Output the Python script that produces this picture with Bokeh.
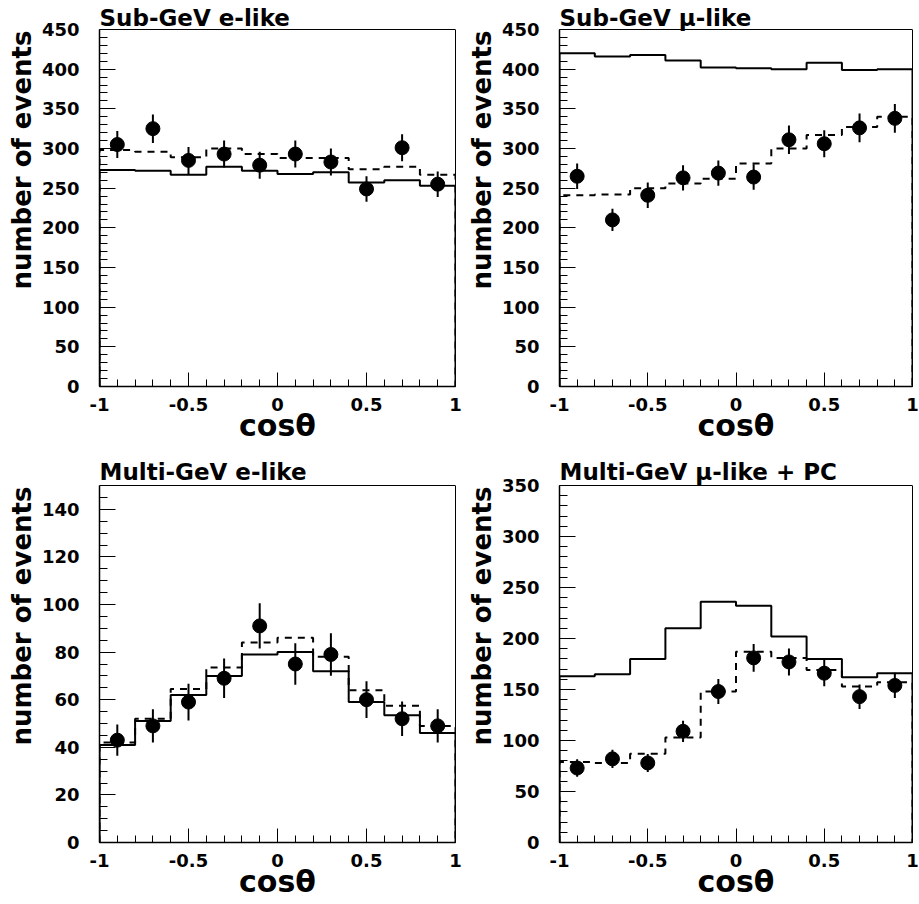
from bokeh.plotting import figure
from bokeh.models import Range1d, FixedTicker, LinearAxis, Title
from bokeh.layouts import gridplot
from bokeh.core.properties import value
from bokeh.embed import file_html
from bokeh.resources import INLINE

# ---------------- data ----------------
bin_edges = [-1.0, -0.8, -0.6, -0.4, -0.2, 0.0, 0.2, 0.4, 0.6, 0.8, 1.0]
bin_centers = [-0.9, -0.7, -0.5, -0.3, -0.1, 0.1, 0.3, 0.5, 0.7, 0.9]

x_tick_values = [-1, -0.5, 0, 0.5, 1]
x_tick_labels = ["-1", "-0.5", "0", "0.5", "1"]

titles = ["Sub-GeV e-like", "Sub-GeV \u03bc-like", "Multi-GeV e-like", "Multi-GeV \u03bc-like + PC"]
y_max = [450, 450, 150, 350]
y_major_step = [50, 50, 20, 50]
y_minor_step = [10, 10, 5, 10]

# Sub-GeV e-like
sub_e_data = [305, 325, 285, 293, 279, 293, 283, 249, 301, 255]
sub_e_err = [17, 18, 17, 17, 17, 17, 17, 16, 17, 16]
sub_e_noosc = [273, 272, 267, 277, 272, 268, 270, 257, 260, 253]
sub_e_osc = [298, 296, 289, 300, 293, 288, 288, 274, 277, 267]

# Sub-GeV mu-like
sub_mu_data = [265, 210, 241, 263, 269, 264, 311, 306, 326, 338]
sub_mu_err = [16, 14, 16, 16, 16, 16, 18, 17, 18, 18]
sub_mu_noosc = [420, 416, 418, 411, 402, 401, 400, 408, 399, 400]
sub_mu_osc = [241, 242, 250, 256, 262, 281, 300, 317, 327, 340]

# Multi-GeV e-like
multi_e_data = [43, 49, 59, 69, 91, 75, 79, 60, 52, 49]
multi_e_err = [6.6, 7.0, 7.7, 8.3, 9.5, 8.7, 8.9, 7.7, 7.2, 7.0]
multi_e_noosc = [41, 51, 62, 70, 79, 80, 72, 59, 53.5, 46]
multi_e_osc = [42, 52, 64.5, 73.5, 84, 86, 78, 64, 57.5, 49]

# Multi-GeV mu-like + PC
multi_mu_data = [73, 82, 78, 109, 148, 181, 177, 166, 143, 154]
multi_mu_err = [8.5, 9.0, 8.8, 10.4, 12.2, 13.5, 13.3, 12.9, 12.0, 12.4]
multi_mu_noosc = [163, 165, 180, 210, 236, 232, 202, 180, 162, 166]
multi_mu_osc = [79, 78, 87, 103, 148, 187, 181, 169, 153, 157]

series = [
    (sub_e_data, sub_e_err, sub_e_noosc, sub_e_osc),
    (sub_mu_data, sub_mu_err, sub_mu_noosc, sub_mu_osc),
    (multi_e_data, multi_e_err, multi_e_noosc, multi_e_osc),
    (multi_mu_data, multi_mu_err, multi_mu_noosc, multi_mu_osc),
]

FONT = "DejaVu Sans"


def step_xy(edges, vals):
    xs, ys = [edges[0]], [0]
    for i, v in enumerate(vals):
        xs += [edges[i], edges[i + 1]]
        ys += [v, v]
    xs.append(edges[-1])
    ys.append(0)
    return xs, ys


def make_panel(idx, left, right, extra_top, bottom, fw, fh, title_shift):
    data, err, noosc, osc = series[idx]
    ymax = y_max[idx]
    ytop = ymax * (fh + extra_top) / fh  # room above the frame box for the title
    p = figure(width=left + fw + right, height=extra_top + fh + bottom,
               x_range=Range1d(-1, 1), y_range=Range1d(0, ytop),
               output_backend="svg", toolbar_location=None, title=None,
               min_border_left=left, min_border_right=right,
               min_border_top=0, min_border_bottom=bottom)
    p.background_fill_color = "white"
    p.border_fill_color = "white"
    p.outline_line_color = None
    p.xgrid.visible = False
    p.ygrid.visible = False

    minor_x = [round(-1 + 0.1 * k, 1) for k in range(21)]
    p.xaxis.ticker = FixedTicker(ticks=x_tick_values, minor_ticks=minor_x)
    p.xaxis.major_label_overrides = dict(zip(x_tick_values, x_tick_labels))
    ymaj = list(range(0, ymax + 1, y_major_step[idx]))
    ymin = list(range(0, ymax + 1, y_minor_step[idx]))
    p.yaxis.ticker = FixedTicker(ticks=ymaj, minor_ticks=ymin)
    p.yaxis.bounds = (0, ymax)

    for ax in (p.xaxis[0], p.yaxis[0]):
        ax.axis_line_color = "black"
        ax.axis_line_width = 1.5
        ax.major_tick_line_color = "black"
        ax.minor_tick_line_color = "black"
        ax.major_tick_line_width = 1
        ax.minor_tick_line_width = 1
        ax.major_tick_out = 0
        ax.minor_tick_out = 0
        ax.major_label_text_font = FONT
        ax.major_label_text_font_style = "bold"
        ax.major_label_text_font_size = "18px"
        ax.major_label_text_color = "black"
    p.yaxis.major_tick_in = 16
    p.yaxis.minor_tick_in = 8
    p.yaxis.major_label_standoff = 20
    p.xaxis.major_tick_in = 14
    p.xaxis.minor_tick_in = 7
    p.xaxis.major_label_standoff = 11

    # x-axis title
    p.xaxis.axis_label = "cos\u03b8"
    p.xaxis.axis_label_text_font = FONT
    p.xaxis.axis_label_text_font_style = "bold"
    p.xaxis.axis_label_text_font_size = "30px"
    p.xaxis.axis_label_text_color = "black"
    p.xaxis.axis_label_standoff = -6

    # y-axis title, aligned to the top of the frame box
    p.add_layout(Title(text="number of events", align="right", standoff=4,
                       offset=extra_top + 1, text_font=FONT, text_font_style="bold",
                       text_font_size="26px", text_color="black"), "left")

    # right frame edge
    ra = LinearAxis(ticker=FixedTicker(ticks=[]), bounds=(0, ymax),
                    major_label_standoff=0, major_tick_in=0, major_tick_out=0,
                    minor_tick_in=0, minor_tick_out=0, axis_line_width=1,
                    axis_line_color="black", major_label_text_font_size="0px")
    p.add_layout(ra, "right")
    # top frame edge
    p.line(x=[bin_edges[0], bin_edges[-1]], y=[ymax, ymax], line_color="black", line_width=1)

    # histograms
    xs, ys = step_xy(bin_edges, osc)
    p.line(xs, ys, line_color="black", line_width=2, line_dash="7 6")
    xs, ys = step_xy(bin_edges, noosc)
    p.line(xs, ys, line_color="black", line_width=2)

    # data points
    lo = [d - e for d, e in zip(data, err)]
    hi = [d + e for d, e in zip(data, err)]
    p.segment(x0=bin_centers, y0=lo, x1=bin_centers, y1=hi, line_color="black", line_width=2)
    p.scatter(x=bin_centers, y=data, marker="circle", size=14,
              fill_color="black", line_color="black")

    # panel title above the frame box
    p.text(x=[bin_edges[0]], y=[ymax], text=[titles[idx]], y_offset=title_shift,
           text_align="left", text_baseline="alphabetic",
           text_font=value(FONT), text_font_style="bold", text_font_size="23px",
           text_color="black")
    return p


p1 = make_panel(0, 99, 7, 29, 62, 356, 357, -12)
p2 = make_panel(1, 96, 7, 29, 62, 354, 357, -12)
p3 = make_panel(2, 99, 7, 37, 62, 356, 357, -14)
p4 = make_panel(3, 96, 7, 37, 62, 354, 357, -14)

grid = gridplot([[p1, p2], [p3, p4]], toolbar_location=None)

open("out.html", "w").write(file_html(grid, INLINE))
